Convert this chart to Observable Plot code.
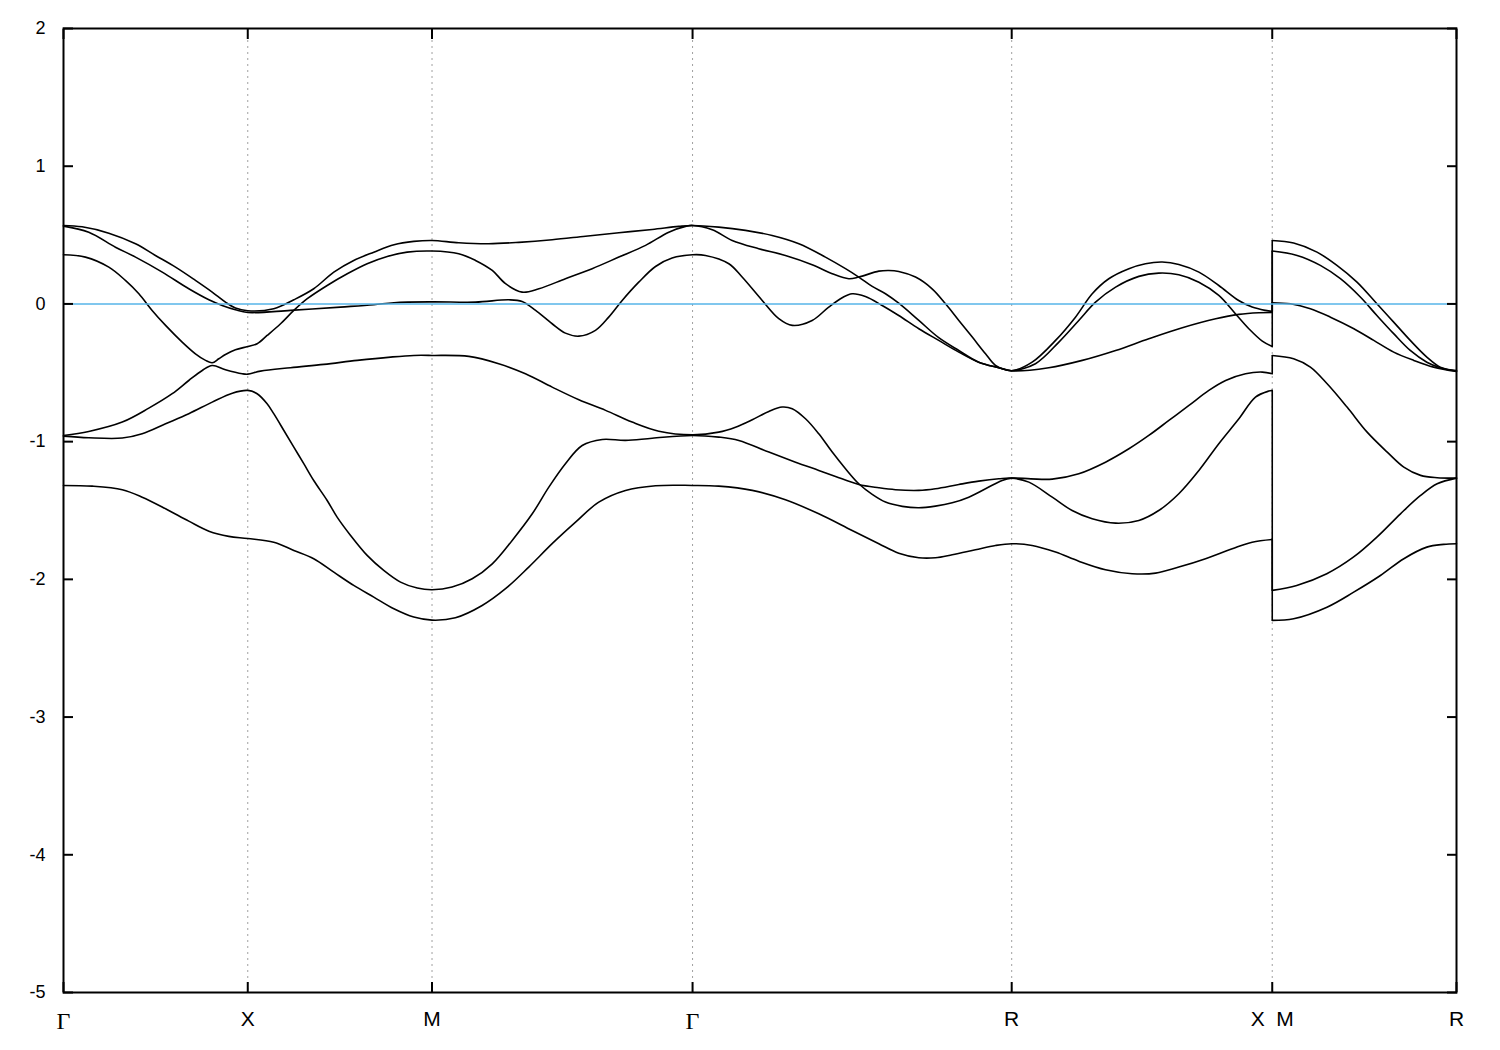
<!DOCTYPE html>
<html>
<head>
<meta charset="utf-8">
<script src="https://cdn.jsdelivr.net/npm/d3@7"></script>
<script src="https://cdn.jsdelivr.net/npm/@observablehq/plot@0.6"></script>
<style>
  html, body { margin: 0; padding: 0; background: #fff; }
  #chart svg { display: block; }
</style>
</head>
<body>
<div id="chart"></div>
<script>
// High-symmetry points along the k-path (Γ–X–M–Γ–R–X|M–R)
const kTicks = [0, 1, 2, 3.414, 5.146, 6.560, 7.560];
const kLabels = ["Γ", "X", "M", "Γ", "R", "X\u00a0\u00a0M", "R"];
const gridTicks = [1, 2, 3.414, 5.146, 6.560];
const yTicks = [-5, -4, -3, -2, -1, 0, 1, 2];
const fermiLevel = [0];

// Bands, first part of the path Γ→X→M→Γ→R→X  ([k, E])
const band1A = [[0,0.57],[0.101,0.56],[0.246,0.514],[0.391,0.437],[0.499,0.352],[0.608,0.267],[0.716,0.171],[0.807,0.086],[0.879,0.013],[0.933,-0.03],[1,-0.05],
  [1.141,-0.035],[1.25,0.03],[1.358,0.11],[1.467,0.231],[1.575,0.316],[1.684,0.376],[1.794,0.43],[1.901,0.454],[2,0.461],
  [2.145,0.444],[2.308,0.437],[2.471,0.447],[2.652,0.466],[2.833,0.492],[3.014,0.517],[3.195,0.541],[3.339,0.563],[3.414,0.57],
  [3.556,0.558],[3.701,0.534],[3.846,0.497],[3.991,0.437],[4.135,0.34],[4.244,0.256],[4.316,0.195],[4.389,0.127],[4.461,0.074],[4.533,0.005],[4.642,-0.12],[4.75,-0.245],[4.859,-0.338],[4.967,-0.423],[5.076,-0.463],[5.146,-0.485],
  [5.257,-0.423],[5.384,-0.265],[5.492,-0.096],[5.583,0.074],[5.673,0.183],[5.782,0.256],[5.872,0.292],[5.963,0.304],[6.053,0.287],[6.162,0.231],[6.27,0.134],[6.378,0.025],[6.451,-0.023],[6.523,-0.047],[6.56,-0.054]];
const band2A = [[0,0.565],[0.137,0.521],[0.282,0.412],[0.391,0.34],[0.536,0.231],[0.68,0.11],[0.789,0.03],[0.861,-0.011],[0.933,-0.042],[1,-0.062],
  [1.232,-0.047],[1.503,-0.023],[1.684,-0.006],[1.793,0.009],[2,0.015],
  [2.236,0.013],[2.417,0.03],[2.489,0.018],[2.562,-0.047],[2.652,-0.144],[2.724,-0.212],[2.797,-0.234],[2.887,-0.192],[2.959,-0.096],[3.032,0.025],[3.122,0.158],[3.213,0.272],[3.303,0.333],[3.414,0.357],
  [3.484,0.352],[3.611,0.292],[3.683,0.195],[3.792,0.025],[3.882,-0.107],[3.955,-0.156],[4.063,-0.12],[4.153,-0.023],[4.226,0.045],[4.28,0.074],[4.352,0.054],[4.443,-0.011],[4.533,-0.084],[4.642,-0.18],[4.75,-0.265],[4.859,-0.35],[4.967,-0.423],[5.076,-0.463],[5.146,-0.485],
  [5.347,-0.463],[5.529,-0.41],[5.71,-0.338],[5.89,-0.253],[6.072,-0.173],[6.253,-0.108],[6.379,-0.076],[6.487,-0.064],[6.56,-0.062]];
const band3A = [[0,0.357],[0.119,0.34],[0.246,0.267],[0.336,0.171],[0.409,0.074],[0.481,-0.047],[0.554,-0.156],[0.644,-0.277],[0.716,-0.362],[0.771,-0.41],[0.807,-0.427],[0.843,-0.398],[0.879,-0.367],[0.933,-0.333],[1,-0.309],
  [1.051,-0.289],[1.105,-0.229],[1.178,-0.144],[1.25,-0.047],[1.323,0.038],[1.431,0.134],[1.54,0.219],[1.648,0.292],[1.757,0.345],[1.865,0.376],[2,0.384],
  [2.145,0.365],[2.236,0.316],[2.327,0.243],[2.399,0.147],[2.489,0.086],[2.58,0.11],[2.724,0.183],[2.869,0.256],[3.014,0.34],[3.159,0.425],[3.285,0.521],[3.376,0.563],[3.414,0.57],
  [3.521,0.539],[3.629,0.461],[3.773,0.401],[3.918,0.352],[4.063,0.285],[4.172,0.219],[4.262,0.183],[4.316,0.195],[4.425,0.238],[4.479,0.243],[4.533,0.236],[4.624,0.195],[4.714,0.11],[4.787,0.001],[4.859,-0.12],[4.932,-0.241],[5.004,-0.362],[5.058,-0.447],[5.112,-0.478],[5.146,-0.485],
  [5.275,-0.434],[5.402,-0.277],[5.51,-0.12],[5.601,0.013],[5.71,0.122],[5.836,0.2],[5.944,0.224],[6.053,0.212],[6.162,0.158],[6.27,0.062],[6.36,-0.071],[6.433,-0.18],[6.506,-0.27],[6.56,-0.309]];
const band4A = [[0,-0.955],[0.137,-0.926],[0.319,-0.858],[0.463,-0.757],[0.59,-0.652],[0.68,-0.556],[0.753,-0.483],[0.807,-0.447],[0.879,-0.478],[0.97,-0.507],[1,-0.51],
  [1.069,-0.488],[1.232,-0.463],[1.413,-0.439],[1.594,-0.41],[1.775,-0.386],[1.901,-0.374],[2,-0.374],
  [2.2,-0.381],[2.362,-0.434],[2.507,-0.507],[2.652,-0.604],[2.797,-0.696],[2.942,-0.773],[3.086,-0.858],[3.231,-0.924],[3.414,-0.95],
  [3.556,-0.931],[3.647,-0.895],[3.738,-0.841],[3.828,-0.781],[3.9,-0.749],[3.955,-0.761],[4.027,-0.834],[4.099,-0.943],[4.172,-1.076],[4.244,-1.197],[4.316,-1.306],[4.389,-1.383],[4.461,-1.439],[4.552,-1.47],[4.642,-1.48],[4.732,-1.468],[4.823,-1.444],[4.913,-1.403],[5.004,-1.342],[5.094,-1.282],[5.146,-1.265],
  [5.25,-1.27],[5.366,-1.272],[5.51,-1.233],[5.655,-1.149],[5.782,-1.052],[5.89,-0.955],[5.999,-0.846],[6.108,-0.737],[6.216,-0.628],[6.307,-0.556],[6.415,-0.507],[6.506,-0.495],[6.56,-0.507]];
const band5A = [[0,-0.96],[0.137,-0.972],[0.319,-0.974],[0.427,-0.943],[0.554,-0.87],[0.68,-0.797],[0.807,-0.713],[0.916,-0.648],[1,-0.628],
  [1.051,-0.652],[1.105,-0.725],[1.141,-0.797],[1.196,-0.919],[1.25,-1.04],[1.304,-1.16],[1.358,-1.282],[1.431,-1.427],[1.485,-1.548],[1.558,-1.681],[1.648,-1.826],[1.738,-1.935],[1.829,-2.02],[1.92,-2.063],[2,-2.075],
  [2.109,-2.056],[2.218,-1.996],[2.327,-1.887],[2.435,-1.717],[2.544,-1.524],[2.634,-1.33],[2.724,-1.16],[2.815,-1.028],[2.924,-0.984],[3.05,-0.991],[3.195,-0.975],[3.414,-0.955],
  [3.556,-0.967],[3.665,-0.991],[3.828,-1.076],[3.973,-1.149],[4.099,-1.209],[4.19,-1.253],[4.316,-1.311],[4.425,-1.335],[4.515,-1.349],[4.642,-1.354],[4.732,-1.342],[4.859,-1.311],[4.967,-1.287],[5.076,-1.27],[5.146,-1.265],
  [5.239,-1.294],[5.366,-1.403],[5.474,-1.5],[5.583,-1.56],[5.71,-1.592],[5.836,-1.572],[5.944,-1.5],[6.053,-1.378],[6.162,-1.209],[6.27,-1.015],[6.379,-0.834],[6.469,-0.677],[6.541,-0.633],[6.56,-0.628]];
const band6A = [[0,-1.318],[0.156,-1.323],[0.319,-1.349],[0.427,-1.403],[0.554,-1.487],[0.68,-1.577],[0.789,-1.65],[0.897,-1.688],[1,-1.703],
  [1.141,-1.73],[1.25,-1.79],[1.358,-1.85],[1.467,-1.948],[1.575,-2.044],[1.684,-2.129],[1.793,-2.214],[1.901,-2.274],[2,-2.296],
  [2.127,-2.279],[2.272,-2.19],[2.399,-2.068],[2.525,-1.911],[2.652,-1.741],[2.779,-1.585],[2.905,-1.439],[3.05,-1.354],[3.213,-1.32],[3.414,-1.318],
  [3.556,-1.323],[3.738,-1.354],[3.918,-1.422],[4.099,-1.524],[4.28,-1.645],[4.425,-1.741],[4.533,-1.81],[4.642,-1.843],[4.732,-1.843],[4.823,-1.821],[4.949,-1.785],[5.058,-1.754],[5.146,-1.741],
  [5.257,-1.754],[5.384,-1.802],[5.51,-1.868],[5.655,-1.93],[5.8,-1.959],[5.927,-1.955],[6.053,-1.911],[6.198,-1.85],[6.343,-1.778],[6.451,-1.73],[6.56,-1.71]];

// Bands, second part of the path M→R
const band1B = [[6.56,0.461],[6.676,0.442],[6.803,0.376],[6.911,0.28],[7.02,0.158],[7.128,0.001],[7.219,-0.132],[7.309,-0.265],[7.399,-0.386],[7.472,-0.459],[7.56,-0.483]];
const band2B = [[6.56,0.384],[6.695,0.352],[6.821,0.28],[6.93,0.183],[7.038,0.05],[7.128,-0.084],[7.219,-0.216],[7.309,-0.338],[7.399,-0.423],[7.472,-0.463],[7.56,-0.488]];
const band3B = [[6.56,0.009],[6.659,0.001],[6.767,-0.035],[6.876,-0.096],[7.003,-0.18],[7.111,-0.265],[7.219,-0.35],[7.328,-0.41],[7.436,-0.459],[7.56,-0.49]];
const band4B = [[6.56,-0.374],[6.676,-0.398],[6.767,-0.459],[6.858,-0.58],[6.966,-0.749],[7.075,-0.931],[7.184,-1.076],[7.274,-1.185],[7.365,-1.245],[7.455,-1.262],[7.56,-1.265]];
const band5B = [[6.56,-2.08],[6.693,-2.044],[6.856,-1.959],[7.0,-1.839],[7.128,-1.693],[7.256,-1.524],[7.365,-1.391],[7.455,-1.306],[7.56,-1.265]];
const band6B = [[6.56,-2.298],[6.676,-2.286],[6.857,-2.202],[7.002,-2.093],[7.147,-1.972],[7.274,-1.85],[7.399,-1.766],[7.49,-1.746],[7.56,-1.741]];

const partsA = [band1A, band2A, band3A, band4A, band5A, band6A];
const partsB = [band1B, band2B, band3B, band4B, band5B, band6B];

const rows = [];
partsA.forEach((arr, i) => arr.forEach(([k, E]) => rows.push({k, E, series: `b${i}A`})));
partsB.forEach((arr, i) => arr.forEach(([k, E]) => rows.push({k, E, series: `b${i}B`})));
// vertical jumps at the X|M discontinuity: end of part A to start of part B
const jumps = partsA.map((arr, i) => ({
  k: arr[arr.length - 1][0],
  e1: arr[arr.length - 1][1],
  e2: partsB[i][0][1]
}));

const blank = () => "";
const chart = Plot.plot({
  width: 1500,
  height: 1050,
  marginLeft: 63,
  marginRight: 44,
  marginTop: 28,
  marginBottom: 58,
  x: {domain: [0, 7.56], label: null},
  y: {domain: [-5, 2], label: null},
  style: {fontFamily: "'Liberation Sans', Arial, sans-serif", fontSize: "17px", color: "#000", background: "#fff"},
  marks: [
    Plot.gridX(gridTicks, {stroke: "#a0a0a0", strokeOpacity: 1, strokeWidth: 1, strokeDasharray: "2,4"}),
    Plot.line(rows, {x: "k", y: "E", z: "series", curve: "catmull-rom", stroke: "#000", strokeWidth: 1.6}),
    Plot.link(jumps, {x1: "k", x2: "k", y1: "e1", y2: "e2", stroke: "#000", strokeWidth: 1.6}),
    Plot.ruleY(fermiLevel, {stroke: "#56b4e9", strokeWidth: 1.6}),
    Plot.frame({stroke: "#000", strokeWidth: 2}),
    Plot.axisY(yTicks, {anchor: "left", tickSize: -10, tickFormat: blank, strokeWidth: 2}),
    Plot.axisY(yTicks, {anchor: "right", tickSize: -10, tickFormat: blank, strokeWidth: 2}),
    Plot.axisX(kTicks, {anchor: "bottom", tickSize: -10, tickFormat: blank, strokeWidth: 2}),
    Plot.axisX(kTicks, {anchor: "top", tickSize: -10, tickFormat: blank, strokeWidth: 2}),
    Plot.axisY(yTicks, {anchor: "left", tickSize: 0, tickPadding: 18, fontSize: 18,
      tickFormat: d => String(d)}),
    Plot.axisX(kTicks, {anchor: "bottom", tickSize: 0, tickPadding: 19, fontSize: 21,
      tickFormat: d => kLabels[kTicks.indexOf(d)]})
  ]
});
document.getElementById("chart").appendChild(chart);
// Γ labels in a serif face, like the original
d3.select(chart).selectAll("text").each(function() {
  if (this.textContent === "Γ") {
    d3.select(this).attr("font-family", "'Liberation Serif', 'DejaVu Serif', serif").attr("font-size", 24);
  }
});
</script>
</body>
</html>
